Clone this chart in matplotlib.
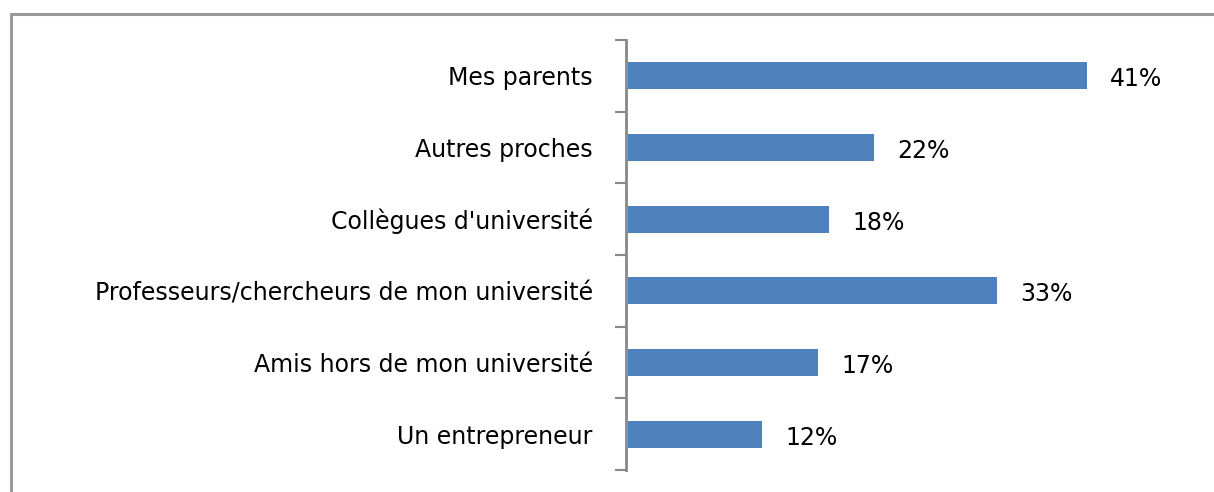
import matplotlib.pyplot as plt
from matplotlib.patches import Rectangle

# Données
categories = ["Mes parents", "Autres proches", "Collègues d'université",
              "Professeurs/chercheurs de mon université",
              "Amis hors de mon université", "Un entrepreneur"]
valeurs = [41, 22, 18, 33, 17, 12]
etiquettes = ["41%", "22%", "18%", "33%", "17%", "12%"]

W, H = 1214, 492
fig = plt.figure(figsize=(W / 100, H / 100), dpi=100)

# Cadre gris autour du graphique (côtés droit et bas hors de l'image)
fig.patches.append(Rectangle((11 / W, -0.05), 1.1, 1.05 - 14 / H,
                             transform=fig.transFigure, fill=False,
                             edgecolor="#999999", linewidth=2.2))

ax = fig.add_axes([626 / W, 1 - 470 / H, 560 / W, 430 / H])

pos = list(range(len(categories)))
ax.barh(pos, valeurs, height=0.38, color="#4f81bd", left=0.15)
ax.set_xlim(0, 50)
ax.set_ylim(len(categories) - 0.5, -0.5)

for p, v, t in zip(pos, valeurs, etiquettes):
    ax.text(v + 2.2, p + 0.05, t, va="center", ha="left", fontsize=17,
            color="black")

for s in ["top", "right", "bottom"]:
    ax.spines[s].set_visible(False)
ax.spines["left"].set_color("#888888")
ax.spines["left"].set_linewidth(2)

ax.set_xticks([])
ax.set_yticks(pos)
ax.set_yticklabels(categories, fontsize=17)
ax.tick_params(axis="y", which="major", length=0, pad=24)
ax.set_yticks([p - 0.5 for p in range(len(categories) + 1)], minor=True)
ax.tick_params(axis="y", which="minor", length=8, width=1.5, color="#888888")

plt.savefig("out.png", dpi=100)
